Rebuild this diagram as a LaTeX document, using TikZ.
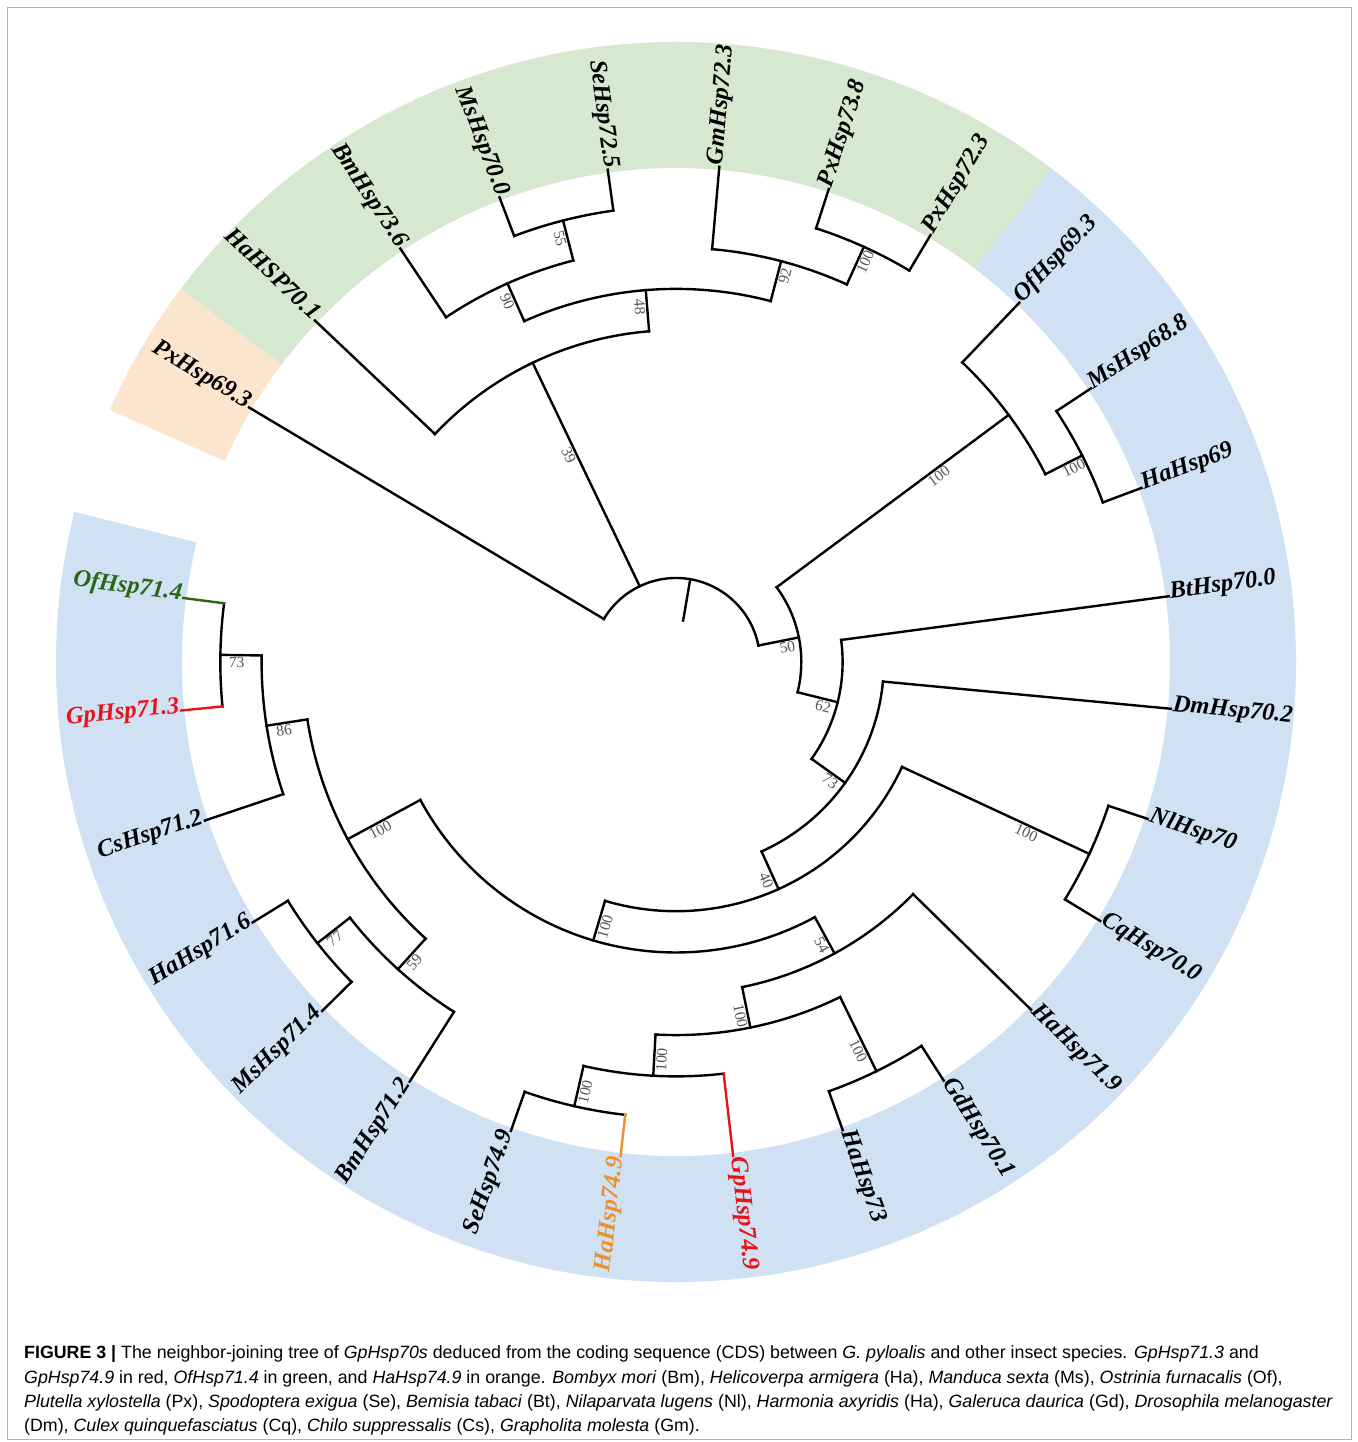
\documentclass[tikz,border=0pt]{standalone}
\usepackage{fontspec}
\setmainfont{Liberation Serif}
\newfontfamily\capfont{Liberation Sans}
\definecolor{bandgreen}{RGB}{214,232,208}
\definecolor{bandblue}{RGB}{207,225,242}
\definecolor{bandorange}{RGB}{252,229,206}
\definecolor{leafred}{RGB}{232,18,24}
\definecolor{leafgreen}{RGB}{42,102,24}
\definecolor{leaforange}{RGB}{234,146,46}
\definecolor{bootgray}{RGB}{85,85,85}
\tikzset{
  branch/.style={line width=2.4pt,line cap=rect},
  leaflab/.style={font=\fontsize{24.5}{28}\selectfont\bfseries\itshape,inner sep=1.5pt},
  boot/.style={font=\fontsize{15.5}{18}\selectfont,text=bootgray,inner sep=2pt},
  caption/.style={font=\capfont\fontsize{17.8}{21}\selectfont,inner sep=0pt,anchor=base west}
}
% internal node: name, angle, height, parent height, arc start, arc end, bootstrap
\newcommand\tnode[7]{%
  \pgfmathsetmacro\tnR{497-41.3*#3}%
  \pgfmathsetmacro\tnP{497-41.3*#4}%
  \pgfmathsetmacro\tnC{cos(#2)}%
  \ifdim\tnC pt<0pt
    \pgfmathsetmacro\tnRot{#2+180}\pgfmathsetmacro\tnL{\tnP+0.6*(\tnR-\tnP)}%
  \else
    \pgfmathsetmacro\tnRot{#2}\pgfmathsetmacro\tnL{\tnP+0.68*(\tnR-\tnP)}%
  \fi
  \coordinate (#1-in) at (#2:\tnP);
  \coordinate (#1) at (#2:\tnR);
  \draw[branch] (#1-in) -- (#1);
  \draw[branch] (#5:\tnR) arc[start angle=#5,end angle=#6,radius=\tnR];
  \node[boot,rotate=\tnRot,anchor=north] (#1-bs) at (#2:\tnL) {#7};
}
% leaf: name, angle, parent height, colour, text
\newcommand\tleaf[5]{%
  \pgfmathsetmacro\tnP{497-41.3*#3}%
  \pgfmathsetmacro\tnC{cos(#2)}%
  \ifdim\tnC pt<0pt
    \pgfmathsetmacro\tnRot{#2+180}\def\tnAnc{mid east}%
  \else
    \pgfmathsetmacro\tnRot{#2}\def\tnAnc{mid west}%
  \fi
  \coordinate (#1-in) at (#2:\tnP);
  \coordinate (#1-end) at (#2:497);
  \draw[branch,#4] (#1-in) -- (#1-end);
  \node[leaflab,text=#4,rotate=\tnRot,anchor=\tnAnc] (#1) at (#1-end) {#5};
}
\newcommand\tband[3]{%
  \fill[#3] (#1:494) arc[start angle=#1,end angle=#2,radius=494]
    -- (#2:620) arc[start angle=#2,end angle=#1,radius=620] -- cycle;
}
\begin{document}
\begin{tikzpicture}[x=1pt,y=1pt]
\useasboundingbox (0,0) rectangle (1357,1442);
\fill[white] (0,0) rectangle (1357,1442);
\draw[gray!60,line width=1pt] (7.5,2) rectangle (1351.5,1434.5);
\begin{scope}[shift={(676,780)}]
  \tband{166}{412.75}{bandblue}
  \tband{52.75}{143}{bandgreen}
  \tband{143}{156}{bandorange}
  % root
  \coordinate (root-in) at (80.25:42);
  \coordinate (root) at (80.25:84);
  \draw[branch] (root-in) -- (root);
  \draw[branch] (11.3:84) arc[start angle=11.3,end angle=149.2,radius=84];
  % internal nodes
  \tnode{n50}{11.3}{9}{10}{-13.98}{36.6}{50}
  \tnode{nA}{36.6}{2}{9}{26.95}{46.3}{100}
  \tnode{nMH}{26.95}{1}{2}{20.5}{33.4}{100}
  \tnode{n62}{-13.98}{8}{9}{-35.55}{7.6}{62}
  \tnode{n73}{-35.55}{7}{8}{-65.7}{-5.4}{73}
  \tnode{n40}{-65.7}{6}{7}{-106.55}{-24.9}{40}
  \tnode{nNC}{-24.9}{1}{6}{-31.4}{-18.4}{100}
  \tnode{nB}{-106.55}{5}{6}{-151.65}{-61.45}{100}
  \tnode{nL}{-151.65}{3}{5}{-171.15}{-132.15}{100}
  \tnode{n86}{-171.15}{2}{3}{-180.9}{-161.4}{86}
  \tnode{n73L}{-180.9}{1}{2}{-187.4}{-174.4}{73}
  \tnode{n59}{-132.15}{2}{3}{-141.9}{-122.4}{59}
  \tnode{n77}{-141.9}{1}{2}{-148.4}{-135.4}{77}
  \tnode{n54}{-61.45}{4}{5}{-78.5}{-44.4}{54}
  \tnode{nS}{-78.5}{3}{4}{-93.15}{-63.9}{100}
  \tnode{nQ}{-93.15}{2}{3}{-102.9}{-83.4}{100}
  \tnode{nP}{-102.9}{1}{2}{-109.4}{-96.4}{100}
  \tnode{nR}{-63.9}{1}{3}{-70.4}{-57.4}{100}
  \tnode{n39}{115.6}{4}{10}{94.65}{136.6}{39}
  \tnode{n48}{94.65}{3}{4}{75.3}{114.0}{48}
  \tnode{n90}{114.0}{2}{3}{104.35}{123.7}{90}
  \tnode{n55}{104.35}{1}{2}{97.9}{110.8}{55}
  \tnode{n92}{75.3}{2}{3}{65.65}{85.0}{92}
  \tnode{nPx}{65.65}{1}{2}{59.2}{72.1}{100}
  % leaves
  \tleaf{Bt}{7.6}{8}{black}{BtHsp70.0}
  \tleaf{Ha69}{20.5}{1}{black}{HaHsp69}
  \tleaf{Ms688}{33.4}{1}{black}{MsHsp68.8}
  \tleaf{Of693}{46.3}{2}{black}{OfHsp69.3}
  \tleaf{Px723}{59.2}{1}{black}{PxHsp72.3}
  \tleaf{Px738}{72.1}{1}{black}{PxHsp73.8}
  \tleaf{Gm}{85.0}{2}{black}{GmHsp72.3}
  \tleaf{Se725}{97.9}{1}{black}{SeHsp72.5}
  \tleaf{Ms700}{110.8}{1}{black}{MsHsp70.0}
  \tleaf{Bm736}{123.7}{2}{black}{BmHsp73.6}
  \tleaf{Ha701}{136.6}{4}{black}{HaHSP70.1}
  \tleaf{Px693}{149.2}{10}{black}{PxHsp69.3}
  \tleaf{Dm}{-5.4}{7}{black}{DmHsp70.2}
  \tleaf{Nl}{-18.4}{1}{black}{NlHsp70}
  \tleaf{Cq}{-31.4}{1}{black}{CqHsp70.0}
  \tleaf{Ha719}{-44.4}{4}{black}{HaHsp71.9}
  \tleaf{Gd}{-57.4}{1}{black}{GdHsp70.1}
  \tleaf{Ha73}{-70.4}{1}{black}{HaHsp73}
  \tleaf{Gp749}{-83.4}{2}{leafred}{GpHsp74.9}
  \tleaf{Ha749}{-96.4}{1}{leaforange}{HaHsp74.9}
  \tleaf{Se749}{-109.4}{1}{black}{SeHsp74.9}
  \tleaf{Bm712}{-122.4}{2}{black}{BmHsp71.2}
  \tleaf{Ms714}{-135.4}{1}{black}{MsHsp71.4}
  \tleaf{Ha716}{-148.4}{1}{black}{HaHsp71.6}
  \tleaf{Cs}{-161.4}{2}{black}{CsHsp71.2}
  \tleaf{Gp713}{-174.4}{1}{leafred}{GpHsp71.3}
  \tleaf{Of714}{-187.4}{1}{leafgreen}{OfHsp71.4}
\end{scope}
% caption
\node[caption] (cap1) at (24,83) {\textbf{FIGURE 3 |} The neighbor-joining tree of \textit{GpHsp70s} deduced from the coding sequence (CDS) between \textit{G. pyloalis} and other insect species. \textit{GpHsp71.3} and};
\node[caption] (cap2) at (24,58) {\textit{GpHsp74.9} in red, \textit{OfHsp71.4} in green, and \textit{HaHsp74.9} in orange. \textit{Bombyx mori} (Bm), \textit{Helicoverpa armigera} (Ha), \textit{Manduca sexta} (Ms), \textit{Ostrinia furnacalis} (Of),};
\node[caption] (cap3) at (24,34) {\textit{Plutella xylostella} (Px), \textit{Spodoptera exigua} (Se), \textit{Bemisia tabaci} (Bt), \textit{Nilaparvata lugens} (Nl), \textit{Harmonia axyridis} (Ha), \textit{Galeruca daurica} (Gd), \textit{Drosophila melanogaster}};
\node[caption] (cap4) at (24,10) {(Dm), \textit{Culex quinquefasciatus} (Cq), \textit{Chilo suppressalis} (Cs), \textit{Grapholita molesta} (Gm).};
\end{tikzpicture}
\end{document}
